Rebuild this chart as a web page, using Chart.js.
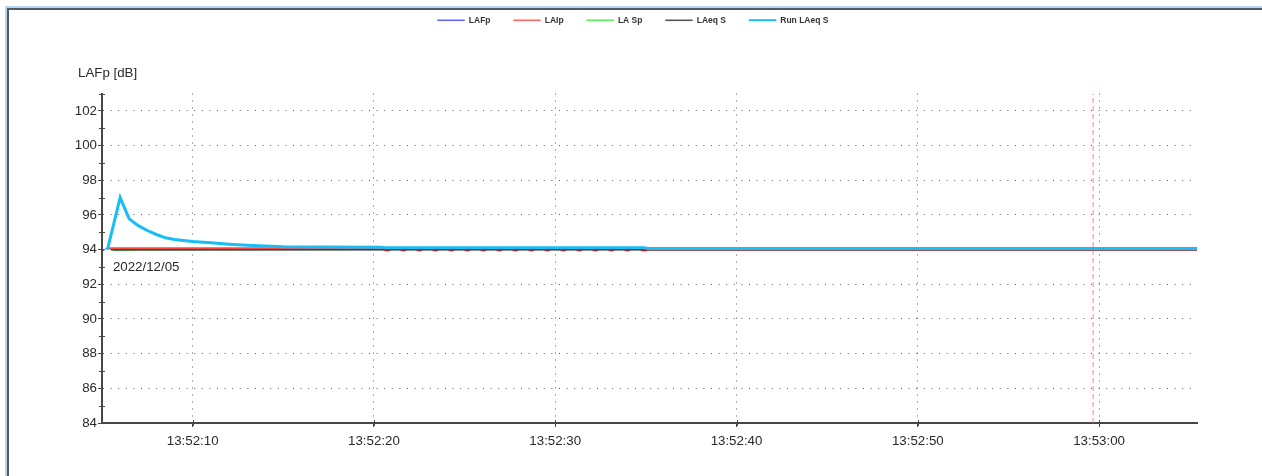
<!DOCTYPE html>
<html>
<head>
<meta charset="utf-8">
<script src="https://cdn.jsdelivr.net/npm/chart.js@4.4.1/dist/chart.umd.min.js"></script>
<style>
  html, body { margin: 0; padding: 0; background: #ffffff; }
  #wrap { position: relative; width: 1262px; height: 476px; }
</style>
</head>
<body>
<div id="wrap"><canvas id="chart" width="1262" height="476"></canvas></div>
<script>
// Time values are seconds after 13:52:00
const tickSeconds = [10, 20, 30, 40, 50, 60];
const tickLabels = ['13:52:10', '13:52:20', '13:52:30', '13:52:40', '13:52:50', '13:53:00'];
const dateLabel = '2022/12/05';
const axisTitle = 'LAFp [dB]';

const seriesNames = ['LAFp', 'LAIp', 'LA Sp', 'LAeq S', 'Run LAeq S'];

const fpSec = [5.05, 5.3, 5.6, 6.5, 20, 35, 50, 65.4];
const fpDb  = [93.93, 94.1, 94.0, 94.0, 94.0, 94.0, 94.0, 94.0];

const ipSec = [5.3, 6.0, 20.5, 20.6, 35.0, 35.1, 65.4];
const ipDb  = [94.08, 94.08, 94.08, 93.96, 93.96, 94.0, 94.0];

const spSec = [5.6, 6.2, 7.0, 20, 35, 50, 65.4];
const spDb  = [93.95, 93.93, 93.97, 94.0, 94.0, 94.0, 94.0];

const eqSec = [5.5, 20, 35, 50, 65.4];
const eqDb  = [94.0, 94.0, 94.0, 94.0, 94.0];

const runSec = [5.3, 6.0, 6.5, 7.0, 7.5, 8.0, 8.5, 9.0, 10, 11, 12, 13, 14, 15, 17, 20.4, 20.6, 34.9, 35.1, 50, 65.4];
const runDb  = [94.0, 97.0, 95.77, 95.38, 95.1, 94.87, 94.68, 94.58, 94.47, 94.39, 94.31, 94.25, 94.2, 94.16, 94.15, 94.14, 94.1, 94.1, 94.06, 94.06, 94.06];

const cursorSec = 59.67;

const xMin = 5.0, xMax = 65.4;
const yMin = 84, yMax = 103;

function pts(xs, ys) { return xs.map((x, i) => ({ x: x, y: ys[i] })); }

const FONT = "'Liberation Sans', Arial, sans-serif";
const TEXT = '#2a2a2a';
const AXIS = '#474747';
const LABEL_SIZE = 13.3;

// Window frame: light blue edge with dark rule, top and left
const framePlugin = {
  id: 'frame',
  beforeDraw(chart) {
    const ctx = chart.ctx;
    ctx.save();
    ctx.fillStyle = '#ffffff';
    ctx.fillRect(0, 0, chart.width, chart.height);
    ctx.fillStyle = '#b3d4f2';
    ctx.fillRect(5, 6, chart.width - 5, 2);
    ctx.fillRect(5, 6, 2, chart.height - 6);
    ctx.fillStyle = '#555a60';
    ctx.fillRect(7, 8, chart.width - 7, 2);
    ctx.fillRect(7, 8, 2, chart.height - 8);
    ctx.restore();
  }
};

// Axis title, date caption and the small cross ticks on both axes
const textPlugin = {
  id: 'captions',
  afterDatasetsDraw(chart) {
    const ctx = chart.ctx;
    const area = chart.chartArea;
    const xs = chart.scales.x, ys = chart.scales.y;
    ctx.save();
    ctx.fillStyle = TEXT;
    ctx.font = LABEL_SIZE + 'px ' + FONT;
    ctx.textBaseline = 'middle';
    ctx.textAlign = 'left';
    ctx.fillText(axisTitle, area.left - 24, area.top - 20);
    ctx.fillText(dateLabel, xs.getPixelForValue(5.6), ys.getPixelForValue(93.0));
    ctx.strokeStyle = AXIS;
    ctx.lineWidth = 1;
    for (let v = yMin + 1; v <= yMax; v += 2) {
      const py = Math.round(ys.getPixelForValue(v)) + 0.5;
      ctx.beginPath();
      ctx.moveTo(area.left - 3, py);
      ctx.lineTo(area.left + 3, py);
      ctx.stroke();
    }
    for (const v of tickSeconds) {
      const px = Math.round(xs.getPixelForValue(v)) + 0.5;
      ctx.beginPath();
      ctx.moveTo(px, area.bottom - 3);
      ctx.lineTo(px, area.bottom + 3);
      ctx.stroke();
    }
    ctx.restore();
  }
};

const colors = ['#4646ff', '#ff4646', '#3ee83e', '#333333', '#17bdf4'];
const darkRed = '#b8141c';

new Chart(document.getElementById('chart'), {
  type: 'line',
  data: {
    datasets: [
      { label: seriesNames[0], data: pts(fpSec, fpDb), borderColor: colors[0], backgroundColor: colors[0], borderWidth: 1, order: 3 },
      { label: seriesNames[1], data: pts(ipSec, ipDb), borderColor: colors[1], backgroundColor: colors[1], borderWidth: 2, order: 1,
        segment: {
          borderDash: c => (c.p0.parsed.x >= 20.6 && c.p0.parsed.x < 35) ? [5, 11] : undefined,
          borderColor: c => (c.p0.parsed.x >= 20.5) ? darkRed : undefined
        } },
      { label: seriesNames[2], data: pts(spSec, spDb), borderColor: colors[2], backgroundColor: colors[2], borderWidth: 1, order: 4 },
      { label: seriesNames[3], data: pts(eqSec, eqDb), borderColor: colors[3], backgroundColor: colors[3], borderWidth: 2, order: 2 },
      { label: seriesNames[4], data: pts(runSec, runDb), borderColor: colors[4], backgroundColor: colors[4], borderWidth: 3, order: 0 },
      { label: 'cursor', data: pts([cursorSec, cursorSec], [yMin, yMax]), borderColor: '#ff7ab8', backgroundColor: '#ff7ab8', borderWidth: 1, borderDash: [5, 3], order: 5 }
    ]
  },
  options: {
    responsive: false,
    animation: false,
    elements: { point: { radius: 0, hoverRadius: 0 }, line: { tension: 0 } },
    layout: { padding: { top: -7, left: 4, right: 0, bottom: 0 } },
    plugins: {
      tooltip: { enabled: false },
      legend: {
        display: true,
        position: 'top',
        labels: {
          boxWidth: 27,
          boxHeight: 1,
          padding: 23,
          color: '#333333',
          font: { family: FONT, size: 8.5, weight: 'bold' },
          filter: item => item.datasetIndex < 5,
          sort: (a, b) => a.datasetIndex - b.datasetIndex,
          generateLabels: chart => {
            const items = Chart.defaults.plugins.legend.labels.generateLabels(chart);
            items.forEach(it => { it.lineWidth = it.datasetIndex === 4 ? 1 : 0.3; });
            return items;
          }
        }
      }
    },
    scales: {
      x: {
        type: 'linear',
        min: xMin,
        max: xMax,
        afterBuildTicks: s => { s.ticks = tickSeconds.map(v => ({ value: v })); },
        afterFit: s => { s.height = 53; },
        ticks: {
          autoSkip: false,
          maxRotation: 0,
          padding: 6,
          color: TEXT,
          font: { family: FONT, size: LABEL_SIZE },
          callback: (v) => { const i = tickSeconds.indexOf(v); return i >= 0 ? tickLabels[i] : ''; }
        },
        grid: { color: '#5a5a5a', lineWidth: 1, tickLength: 4, tickColor: AXIS, drawTicks: true },
        border: { display: true, color: AXIS, width: 2, dash: [1, 6] }
      },
      // empty band between the legend and the plot, leaves room for the axis title
      xTop: {
        type: 'linear',
        axis: 'x',
        position: 'top',
        min: xMin,
        max: xMax,
        afterFit: s => { s.height = 59; },
        ticks: { display: false },
        grid: { display: false, drawTicks: false },
        border: { display: false }
      },
      y: {
        min: yMin,
        max: yMax,
        afterFit: s => { s.width = 98; },
        ticks: {
          stepSize: 1,
          autoSkip: false,
          padding: 1,
          color: TEXT,
          font: { family: FONT, size: LABEL_SIZE },
          callback: v => (v % 2 === 0 ? String(v) : '')
        },
        grid: {
          color: c => (c.tick && c.tick.value % 2 === 0 && c.tick.value > yMin) ? '#5a5a5a' : 'rgba(0,0,0,0)',
          lineWidth: 1,
          tickLength: 4,
          tickColor: c => (c.tick && c.tick.value % 2 === 0) ? AXIS : 'rgba(0,0,0,0)'
        },
        border: { display: true, color: AXIS, width: 2, dash: [1, 6.6] }
      },
      // empty margin on the right of the plot
      yRight: {
        type: 'linear',
        axis: 'y',
        position: 'right',
        min: yMin,
        max: yMax,
        afterFit: s => { s.width = 65; },
        ticks: { display: false },
        grid: { display: false, drawTicks: false },
        border: { display: false }
      }
    }
  },
  plugins: [framePlugin, textPlugin]
});
</script>
</body>
</html>
